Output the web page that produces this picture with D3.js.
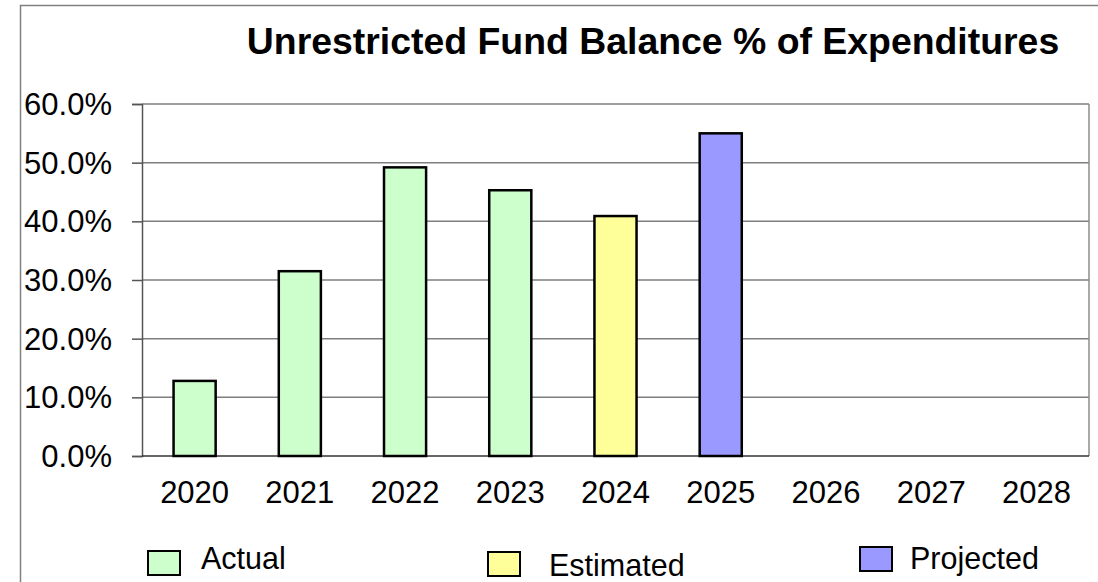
<!DOCTYPE html>
<html>
<head>
<meta charset="utf-8">
<script src="https://cdn.jsdelivr.net/npm/d3@7/dist/d3.min.js"></script>
<style>
  html, body { margin: 0; padding: 0; background: #fff; }
  svg { display: block; }
  text { font-family: "Liberation Sans", Arial, sans-serif; fill: #000; }
</style>
</head>
<body>
<svg id="chart" width="1098" height="582"></svg>
<script>
const title = "Unrestricted Fund Balance % of Expenditures";
const years = ["2020", "2021", "2022", "2023", "2024", "2025", "2026", "2027", "2028"];
const values = [12.8, 31.5, 49.2, 45.3, 40.9, 55.0, null, null, null];
const seriesOf = ["Actual", "Actual", "Actual", "Actual", "Estimated", "Projected", null, null, null];
const seriesNames = ["Actual", "Estimated", "Projected"];
const seriesColors = ["#CCFFCC", "#FFFF99", "#9999FF"];
const yTicks = [0, 10, 20, 30, 40, 50, 60];

const svg = d3.select("#chart");
const W = 1098, H = 582;
const m = { left: 142, right: 1089, top: 104, bottom: 456 };

// outer frame
svg.append("rect").attr("x", 20.5).attr("y", 5.5).attr("width", W + 20).attr("height", H + 20)
  .attr("fill", "#fff").attr("stroke", "#808080").attr("stroke-width", 1.5);

const x = d3.scaleBand().domain(years).range([m.left, m.right]).paddingInner(0.6).paddingOuter(0.3);
const y = d3.scaleLinear().domain([0, 60]).range([m.bottom, m.top]);
const color = d3.scaleOrdinal().domain(seriesNames).range(seriesColors);

// gridlines
svg.append("g").selectAll("line").data(yTicks.filter(d => d > 0)).join("line")
  .attr("x1", m.left).attr("x2", m.right)
  .attr("y1", d => y(d)).attr("y2", d => y(d))
  .attr("stroke", "#7f7f7f").attr("stroke-width", 1.5);
// right border of plot
svg.append("line").attr("x1", m.right).attr("x2", m.right).attr("y1", m.top).attr("y2", m.bottom)
  .attr("stroke", "#8c8c8c").attr("stroke-width", 1.5);

// y axis
const yAxis = d3.axisLeft(y).tickValues(yTicks).tickFormat(d => d3.format(".1f")(d) + "%")
  .tickSize(10).tickPadding(20);
const gy = svg.append("g").attr("transform", `translate(${m.left},0)`).call(yAxis);
gy.select(".domain").attr("stroke", "#555").attr("stroke-width", 1.5);
gy.selectAll(".tick line").attr("stroke", "#555").attr("stroke-width", 1.5);
gy.selectAll(".tick text").attr("font-size", 31).attr("font-family", "Liberation Sans, Arial, sans-serif")
  .attr("dy", "0.34em").attr("fill", "#000");

// x axis
const xAxis = d3.axisBottom(x).tickSize(0).tickPadding(25);
const gx = svg.append("g").attr("transform", `translate(0,${m.bottom})`).call(xAxis);
gx.select(".domain").attr("stroke", "#333").attr("stroke-width", 1.5).attr("d", `M${m.left},0H${m.right}`);
gx.selectAll(".tick text").attr("font-size", 31).attr("font-family", "Liberation Sans, Arial, sans-serif").attr("fill", "#000");

// bars
const bars = years.map((yr, i) => ({ yr, v: values[i], s: seriesOf[i] })).filter(d => d.v != null);
svg.append("g").selectAll("rect").data(bars).join("rect")
  .attr("x", d => x(d.yr)).attr("width", x.bandwidth())
  .attr("y", d => y(d.v)).attr("height", d => y(0) - y(d.v))
  .attr("fill", d => color(d.s)).attr("stroke", "#000").attr("stroke-width", 2.5);

// title
svg.append("text").attr("x", 653).attr("y", 54).attr("text-anchor", "middle")
  .attr("font-size", 37.4).attr("font-weight", "bold").text(title);

// legend
const legendPos = [
  { bx: 148, by: 551, tx: 201, ty: 569 },
  { bx: 488, by: 552, tx: 549, ty: 576 },
  { bx: 860, by: 547, tx: 910, ty: 569 }
];
const lg = svg.append("g").selectAll("g").data(seriesNames).join("g");
lg.append("rect").attr("x", (d, i) => legendPos[i].bx).attr("y", (d, i) => legendPos[i].by)
  .attr("width", 32).attr("height", 24).attr("fill", d => color(d)).attr("stroke", "#000").attr("stroke-width", 2);
lg.append("text").attr("x", (d, i) => legendPos[i].tx).attr("y", (d, i) => legendPos[i].ty)
  .attr("font-size", 30.5).text(d => d);
</script>
</body>
</html>
